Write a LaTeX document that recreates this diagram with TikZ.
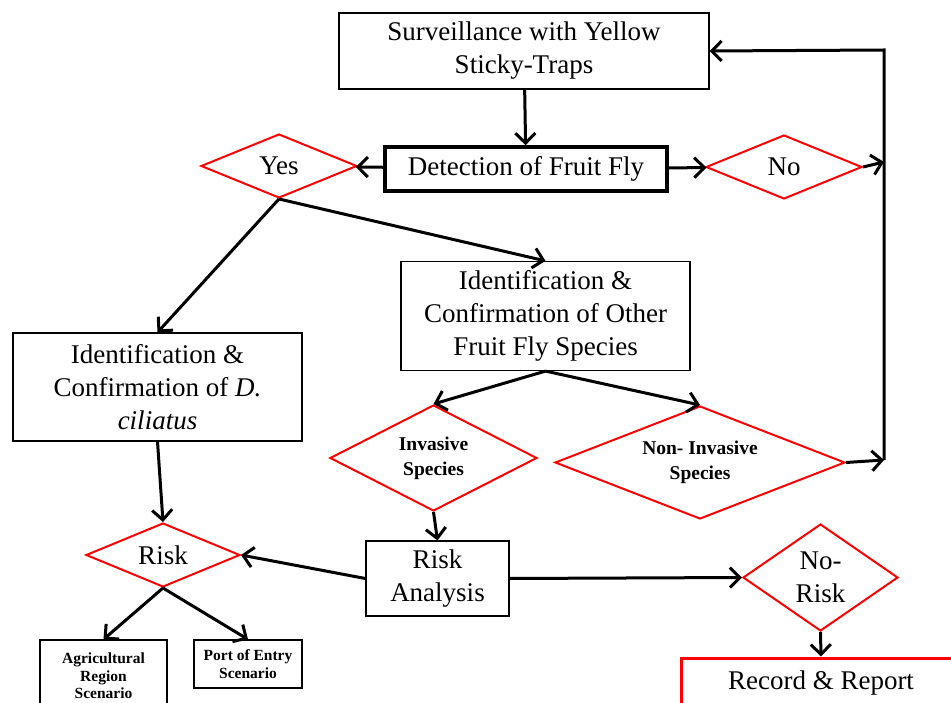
\documentclass[tikz,border=0pt]{standalone}
\usepackage{fontspec}
\setmainfont{Liberation Serif}
\usetikzlibrary{shapes.geometric,arrows.meta}
\begin{document}
\begin{tikzpicture}[x=1pt,y=-1pt,
        box/.style={draw,line width=1.2pt,align=center,inner sep=0pt,font=\fontsize{27}{33}\selectfont},
        dec/.style={draw=red,line width=2pt,shape=diamond,aspect=2.5,inner sep=0pt,align=center},
        big/.style={font=\fontsize{27}{33}\selectfont},
        small/.style={font=\bfseries\fontsize{19.5}{25}\selectfont},
        tiny/.style={font=\bfseries\fontsize{15.5}{17.5}\selectfont},
        flow/.style={line width=3pt,-{Straight Barb[length=10pt,width=20pt]}}]
        \useasboundingbox(0,0)rectangle(951,703);
        \clip(0,0)rectangle(951,703);

        \node[box,minimum width=370,minimum height=76](surv)at(524,51){Surveillance with Yellow\\Sticky-Traps};
        \node[box,line width=3.5pt,minimum width=282,minimum height=44](det)at(526,169){Detection of Fruit Fly};
        \node[dec,big,minimum width=156,minimum height=64](yes)at(279,166){Yes};
        \node[dec,big,minimum width=156,minimum height=64](no)at(784,167){No};

        \node[box,minimum width=289,minimum height=109](other)at(545.5,316){Identification \&\\Confirmation of Other\\Fruit Fly Species};
        \node[box,minimum width=289,minimum height=108](dcil)at(157.5,387){Identification \&\\Confirmation of \textit{D.}\\\textit{ciliatus}};
        \node[dec,small,minimum width=207,minimum height=106](inv)at(433.5,458){Invasive\\Species};
        \node[dec,small,minimum width=290,minimum height=113](noninv)at(700,462.5){Non- Invasive\\Species};

        \node[box,minimum width=143,minimum height=75](ra)at(437.5,578.5){Risk\\Analysis};
        \node[dec,big,minimum width=154,minimum height=64](risk)at(163,555){Risk};
        \node[dec,big,aspect=1.4,minimum width=155,minimum height=107](norisk)at(820.5,577.5){No-\\Risk};
        \node[box,draw=red,line width=3pt,minimum width=280,minimum height=50](rec)at(821,683){Record \& Report};
        \node[box,tiny,minimum width=127,minimum height=72](agri)at(103.5,676){Agricultural\\Region\\Scenario};
        \node[box,tiny,minimum width=108,minimum height=48](port)at(248,664){Port of Entry\\Scenario};

        \coordinate(top)at(884,50);
        \coordinate(mid)at(884,162);
        \coordinate(bot)at(884,460);

        \draw[flow](surv)--(det);
        \draw[flow](det)--(yes);
        \draw[flow](det)--(no);
        \draw[flow](yes.south)--(dcil.north);
        \draw[flow](yes.south)--(other.north);
        \draw[flow](other.south)--(inv.north);
        \draw[flow](other.south)--(noninv.north);
        \draw[flow](inv.south)--(ra.north);
        \draw[flow](dcil.south)--(risk.north);
        \draw[flow](ra.west)--(risk.east);
        \draw[flow](ra.east)--(norisk.west);
        \draw[flow](norisk.south)--(rec.north);
        \draw[flow](risk.south)--(agri.north);
        \draw[flow](risk.south)--(port.north);

        \draw[flow](bot)--(top)--(surv.east);
        \draw[flow](no.east)--(mid);
        \draw[flow](noninv.east)--(bot);
    \end{tikzpicture}
\end{document}
